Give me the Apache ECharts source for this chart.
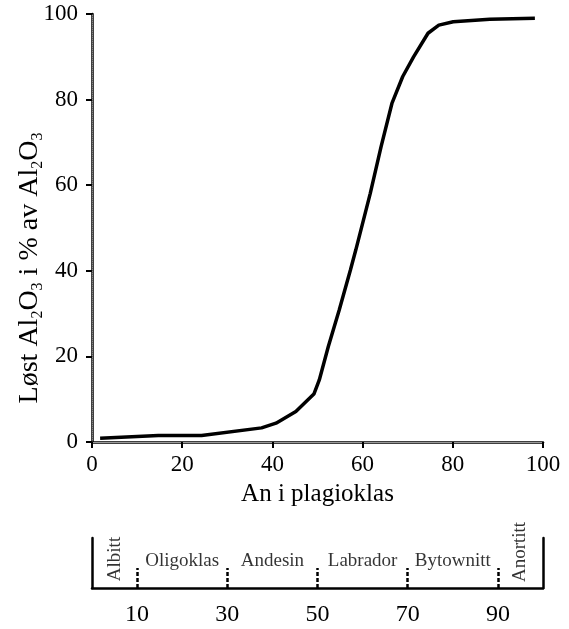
<!DOCTYPE html>
<html>
<head>
<meta charset="utf-8">
<script src="https://cdn.jsdelivr.net/npm/echarts@6/dist/echarts.min.js"></script>
<style>
    html, body { margin: 0; padding: 0; background: #fff; }
    #myChart { width: 569px; height: 629px; }
</style>
</head>
<body>
<div id="myChart"></div>
<script>
// An-innhold i plagioklas (x) og løst Al2O3 i % (y), lest av figuren
var anValues = [1.8, 14.7, 24.3, 37.6, 40.8, 45.2, 49.2, 50.4, 52.4, 54.8, 57.3, 58.5, 61.7, 64.1, 66.5, 68.9, 71.3, 74.5, 76.9, 80.1, 88.2, 98.2]
var al2o3Values = [0.9, 1.5, 1.5, 3.3, 4.4, 7.1, 11.2, 14.5, 22.3, 30.8, 40.2, 44.9, 58.1, 69.0, 79.1, 85.4, 90.0, 95.5, 97.4, 98.2, 98.8, 99.0]

// plagioklas-serien under diagrammet
var mineralNames = ['Albitt', 'Oligoklas', 'Andesin', 'Labrador', 'Bytownitt', 'Anortitt']
var mineralCenters = [5, 20, 40, 60, 80, 95]
var mineralRows = [0.58, 0.53, 0.53, 0.53, 0.53, 0.72]
var mineralRotated = [true, false, false, false, false, true]
var boundaryValues = [10, 30, 50, 70, 90]

var serif = 'Liberation Serif'

var curveData = anValues.map(function (x, i) {
    return [x, al2o3Values[i]]
})
var mineralData = mineralNames.map(function (name, i) {
    return {
        value: [mineralCenters[i], mineralRows[i]],
        name: name,
        label: { rotate: mineralRotated[i] ? 90 : 0 }
    }
})

var myChart = echarts.init(document.getElementById('myChart'))
var option = {
    animation: false,
    backgroundColor: '#fff',
    grid: [
        { left: 92, right: 26, top: 14, bottom: 187 },
        { left: 92, right: 26, top: 538, bottom: 41 }
    ],
    xAxis: [
        {
            gridIndex: 0,
            type: 'value',
            min: 0,
            max: 100,
            interval: 20,
            name: 'An i plagioklas',
            nameLocation: 'middle',
            nameGap: 40,
            nameTextStyle: { fontFamily: serif, fontSize: 25, color: '#000' },
            axisLine: { lineStyle: { color: '#000', width: 2.5 } },
            axisTick: { length: 6, lineStyle: { color: '#000', width: 2 } },
            axisLabel: { margin: 11, fontFamily: serif, fontSize: 23, color: '#000' },
            splitLine: { show: false }
        },
        {
            // topplinje i rammen
            gridIndex: 0,
            type: 'value',
            position: 'top',
            min: 0,
            max: 100,
            axisLine: { lineStyle: { color: '#999', width: 1 } },
            axisTick: { show: false },
            axisLabel: { show: false },
            splitLine: { show: false }
        },
        {
            gridIndex: 1,
            type: 'value',
            min: 0,
            max: 100,
            axisLine: { lineStyle: { color: '#000', width: 2.5 } },
            axisTick: {
                inside: true,
                length: 20,
                customValues: boundaryValues,
                lineStyle: { color: '#000', width: 2.5, type: [4, 2] }
            },
            axisLabel: {
                margin: 15,
                customValues: boundaryValues,
                fontFamily: serif,
                fontSize: 24,
                color: '#000'
            },
            splitLine: { show: false }
        }
    ],
    yAxis: [
        {
            gridIndex: 0,
            type: 'value',
            min: 0,
            max: 100,
            interval: 20,
            axisLine: { show: true, lineStyle: { color: '#000', width: 2.5 } },
            axisTick: { show: true, length: 6, lineStyle: { color: '#000', width: 2 } },
            axisLabel: { margin: 14, fontFamily: serif, fontSize: 23, color: '#000' },
            splitLine: { show: false }
        },
        {
            // stiplet høyre kant
            gridIndex: 0,
            type: 'value',
            position: 'right',
            min: 0,
            max: 100,
            axisLine: { show: true, lineStyle: { color: '#888', width: 1, type: 'dotted' } },
            axisTick: { show: false },
            axisLabel: { show: false },
            splitLine: { show: false }
        },
        {
            gridIndex: 1,
            type: 'value',
            min: 0,
            max: 1,
            axisLine: { show: true, lineStyle: { color: '#000', width: 2.5 } },
            axisTick: { show: false },
            axisLabel: { show: false },
            splitLine: { show: false }
        },
        {
            gridIndex: 1,
            type: 'value',
            position: 'right',
            min: 0,
            max: 1,
            axisLine: { show: true, lineStyle: { color: '#000', width: 2.5 } },
            axisTick: { show: false },
            axisLabel: { show: false },
            splitLine: { show: false }
        }
    ],
    graphic: [
        {
            type: 'text',
            x: 30,
            y: 268,
            rotation: Math.PI / 2,
            style: {
                text: '{m|Løst Al}{s|2}{m|O}{s|3}{m| i % av Al}{s|2}{m|O}{s|3}',
                align: 'center',
                verticalAlign: 'middle',
                fill: '#000',
                rich: {
                    m: { fontFamily: serif, fontSize: 28, color: '#000', lineHeight: 32 },
                    s: { fontFamily: serif, fontSize: 16, color: '#000', verticalAlign: 'bottom', lineHeight: 32, padding: [15, 0, 0, 0] }
                }
            }
        }
    ],
    series: [
        {
            name: 'Løst Al2O3',
            type: 'line',
            xAxisIndex: 0,
            yAxisIndex: 0,
            data: curveData,
            symbol: 'none',
            smooth: false,
            lineStyle: { color: '#000', width: 3.5 }
        },
        {
            name: 'plagioklas',
            type: 'scatter',
            xAxisIndex: 2,
            yAxisIndex: 2,
            data: mineralData,
            symbolSize: 0,
            label: {
                show: true,
                position: 'inside',
                formatter: '{b}',
                fontFamily: serif,
                fontSize: 19,
                color: '#000'
            }
        }
    ]
}
myChart.setOption(option)
</script>
</body>
</html>
